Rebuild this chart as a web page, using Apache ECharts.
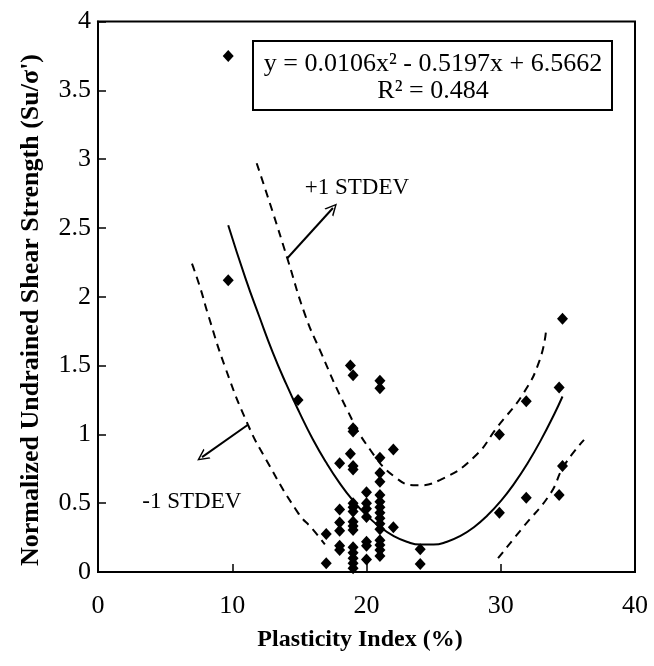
<!DOCTYPE html>
<html>
<head>
<meta charset="utf-8">
<script src="https://cdn.jsdelivr.net/npm/echarts@6/dist/echarts.min.js"></script>
<style>html,body{margin:0;padding:0;background:#fff}#c{width:654px;height:666px}</style>
</head>
<body>
<div id="c"></div>
<script>
// Measured points (Plasticity Index %, Su/σ')
const pointsX = [9.7, 9.7, 14.9,
  18.8, 19.0, 21.0, 21.0,
  19.0, 19.0, 18.8, 22.0, 18.0, 19.0, 19.0, 21.0, 21.0, 21.0, 20.0,
  19.0, 19.0, 19.0, 19.0, 19.0, 19.0, 19.0, 19.0, 19.0, 19.0, 19.0,
  18.0, 18.0, 18.0, 18.0, 18.0,
  20.0, 20.0, 20.0, 20.0, 20.0, 20.0,
  21.0, 21.0, 21.0, 21.0, 21.0, 21.0, 21.0, 21.0, 21.0, 21.0, 21.0,
  22.0, 17.0, 17.0, 24.0, 24.0,
  29.9, 29.9, 31.9, 31.9, 34.35, 34.35, 34.6, 34.6];
const pointsY = [3.75, 2.12, 1.25,
  1.50, 1.43, 1.39, 1.335,
  1.045, 1.02, 0.86, 0.89, 0.79, 0.77, 0.745, 0.83, 0.72, 0.655, 0.58,
  0.50, 0.47, 0.44, 0.365, 0.335, 0.305, 0.18, 0.14, 0.10, 0.063, 0.027,
  0.455, 0.36, 0.30, 0.19, 0.16,
  0.50, 0.46, 0.40, 0.22, 0.19, 0.09,
  0.56, 0.51, 0.47, 0.43, 0.39, 0.35, 0.31, 0.23, 0.196, 0.16, 0.116,
  0.325, 0.276, 0.063, 0.165, 0.058,
  1.00, 0.43, 1.24, 0.54, 1.34, 0.56, 1.84, 0.77];

// Trend curve
const trendX = [9.7, 11, 12, 13, 14, 15, 16, 17, 18, 19, 20, 21, 22, 23, 24, 25, 26, 27, 28, 29, 30, 31, 32, 33, 34, 34.6];
const trendY = [2.52, 2.13, 1.86, 1.60, 1.37, 1.16, 0.965, 0.795, 0.646, 0.518, 0.412, 0.327, 0.263, 0.22, 0.199, 0.199, 0.22, 0.262, 0.325, 0.41, 0.515, 0.642, 0.79, 0.96, 1.15, 1.275];

// +1 STDEV dashed curve
const upperX = [11.82, 13.0, 14.1, 15.42, 16.54, 18.5, 20.26, 22.25, 23.74, 25.5, 27.96, 29.8, 31.7, 32.9, 33.37];
const upperY = [2.97, 2.62, 2.28, 1.87, 1.61, 1.19, 0.89, 0.68, 0.63, 0.67, 0.83, 1.06, 1.30, 1.54, 1.75];

// -1 STDEV dashed curves
const lowerLeftX = [7.0, 7.6, 8.2, 9.5, 11.17, 12.5, 14.9, 16.0, 16.9];
const lowerLeftY = [2.24, 2.07, 1.87, 1.48, 1.07, 0.82, 0.43, 0.31, 0.20];
const lowerRightX = [29.8, 31.7, 33.7, 34.7, 36.2];
const lowerRightY = [0.10, 0.33, 0.57, 0.77, 0.96];

// Annotation arrows
const arrowUp = [[14.1, 2.28], [17.5, 2.645]];
const arrowDown = [[11.17, 1.07], [7.75, 0.835]];

const xTicks = {min: 0, max: 40, interval: 10};
const yTicks = {min: 0, max: 4, interval: 0.5};

const xTitle = 'Plasticity Index (%)';
const yTitle = "Normalized Undrained Shear Strength (Su/σ')";

const zip = (a, b) => a.map((v, i) => [v, b[i]]);
const serif = 'Liberation Serif';
const chevron = 'path://M0,10 L5,0 L10,10 L8.6,10 L5,2.6 L1.4,10 Z';

const chart = echarts.init(document.getElementById('c'), null, {renderer: 'canvas'});
const lineBase = {type: 'line', smooth: true, showSymbol: false, symbol: 'none', silent: true, z: 3};
chart.setOption({
  animation: false,
  backgroundColor: '#fff',
  grid: {left: 98, right: 19, top: 21.5, bottom: 94, show: true, borderColor: '#000', borderWidth: 2, backgroundColor: 'transparent'},
  xAxis: {
    type: 'value', min: xTicks.min, max: xTicks.max, interval: xTicks.interval,
    axisLine: {lineStyle: {color: '#000', width: 2}},
    axisTick: {inside: true, length: 8, lineStyle: {color: '#000', width: 1.5}},
    axisLabel: {fontFamily: serif, fontSize: 26, color: '#000', margin: 21},
    splitLine: {show: false}
  },
  yAxis: {
    type: 'value', min: yTicks.min, max: yTicks.max, interval: yTicks.interval,
    axisLine: {lineStyle: {color: '#000', width: 2}},
    axisTick: {inside: true, length: 8, lineStyle: {color: '#000', width: 1.5}},
    axisLabel: {fontFamily: serif, fontSize: 26, color: '#000', margin: 7},
    splitLine: {show: false}
  },
  series: [
    Object.assign({}, lineBase, {name: 'trend', data: zip(trendX, trendY), lineStyle: {color: '#000', width: 2}}),
    Object.assign({}, lineBase, {name: 'upper', data: zip(upperX, upperY), lineStyle: {color: '#000', width: 2, type: [8, 6]}}),
    Object.assign({}, lineBase, {name: 'lowerL', data: zip(lowerLeftX, lowerLeftY), lineStyle: {color: '#000', width: 2, type: [8, 6]}}),
    Object.assign({}, lineBase, {name: 'lowerR', data: zip(lowerRightX, lowerRightY), lineStyle: {color: '#000', width: 2, type: [8, 6]},
      markLine: {
        silent: true, symbol: ['none', chevron], symbolSize: [12, 12],
        lineStyle: {color: '#000', width: 2, type: 'solid', opacity: 1}, label: {show: false},
        data: [
          [{coord: arrowUp[0]}, {coord: arrowUp[1]}],
          [{coord: arrowDown[0]}, {coord: arrowDown[1]}]
        ]
      }}),
    {type: 'scatter', name: 'data', data: zip(pointsX, pointsY), symbol: 'diamond', symbolSize: [11, 12],
      itemStyle: {color: '#000', opacity: 1}, z: 5, silent: true},
    {type: 'scatter', name: 'labels', symbolSize: 0, silent: true,
      itemStyle: {opacity: 1, color: '#000'},
      data: [{value: [15.4, 2.79], name: '+1 STDEV'}, {value: [3.3, 0.51], name: '-1 STDEV'}],
      label: {show: true, position: 'right', distance: 0, formatter: p => p.name, fontFamily: serif, fontSize: 23, color: '#000', opacity: 1}}
  ],
  graphic: [
    {type: 'rect', shape: {x: 253, y: 41, width: 359, height: 69}, style: {fill: '#fff', stroke: '#000', lineWidth: 2}, z: 10},
    {type: 'text', x: 433, y: 78, style: {text: 'y = 0.0106x² - 0.5197x + 6.5662\nR² = 0.484', fontFamily: serif, fontSize: 26, lineHeight: 27, fill: '#000', align: 'center', verticalAlign: 'middle'}, z: 11},
    {type: 'text', x: 360, y: 640, style: {text: xTitle, fontFamily: serif, fontWeight: 'bold', fontSize: 24, fill: '#000', align: 'center', verticalAlign: 'middle'}},
    {type: 'text', x: 31, y: 310, rotation: Math.PI / 2, style: {text: yTitle, fontFamily: serif, fontWeight: 'bold', fontSize: 26, fill: '#000', align: 'center', verticalAlign: 'middle'}}
  ]
});
</script>
</body>
</html>
